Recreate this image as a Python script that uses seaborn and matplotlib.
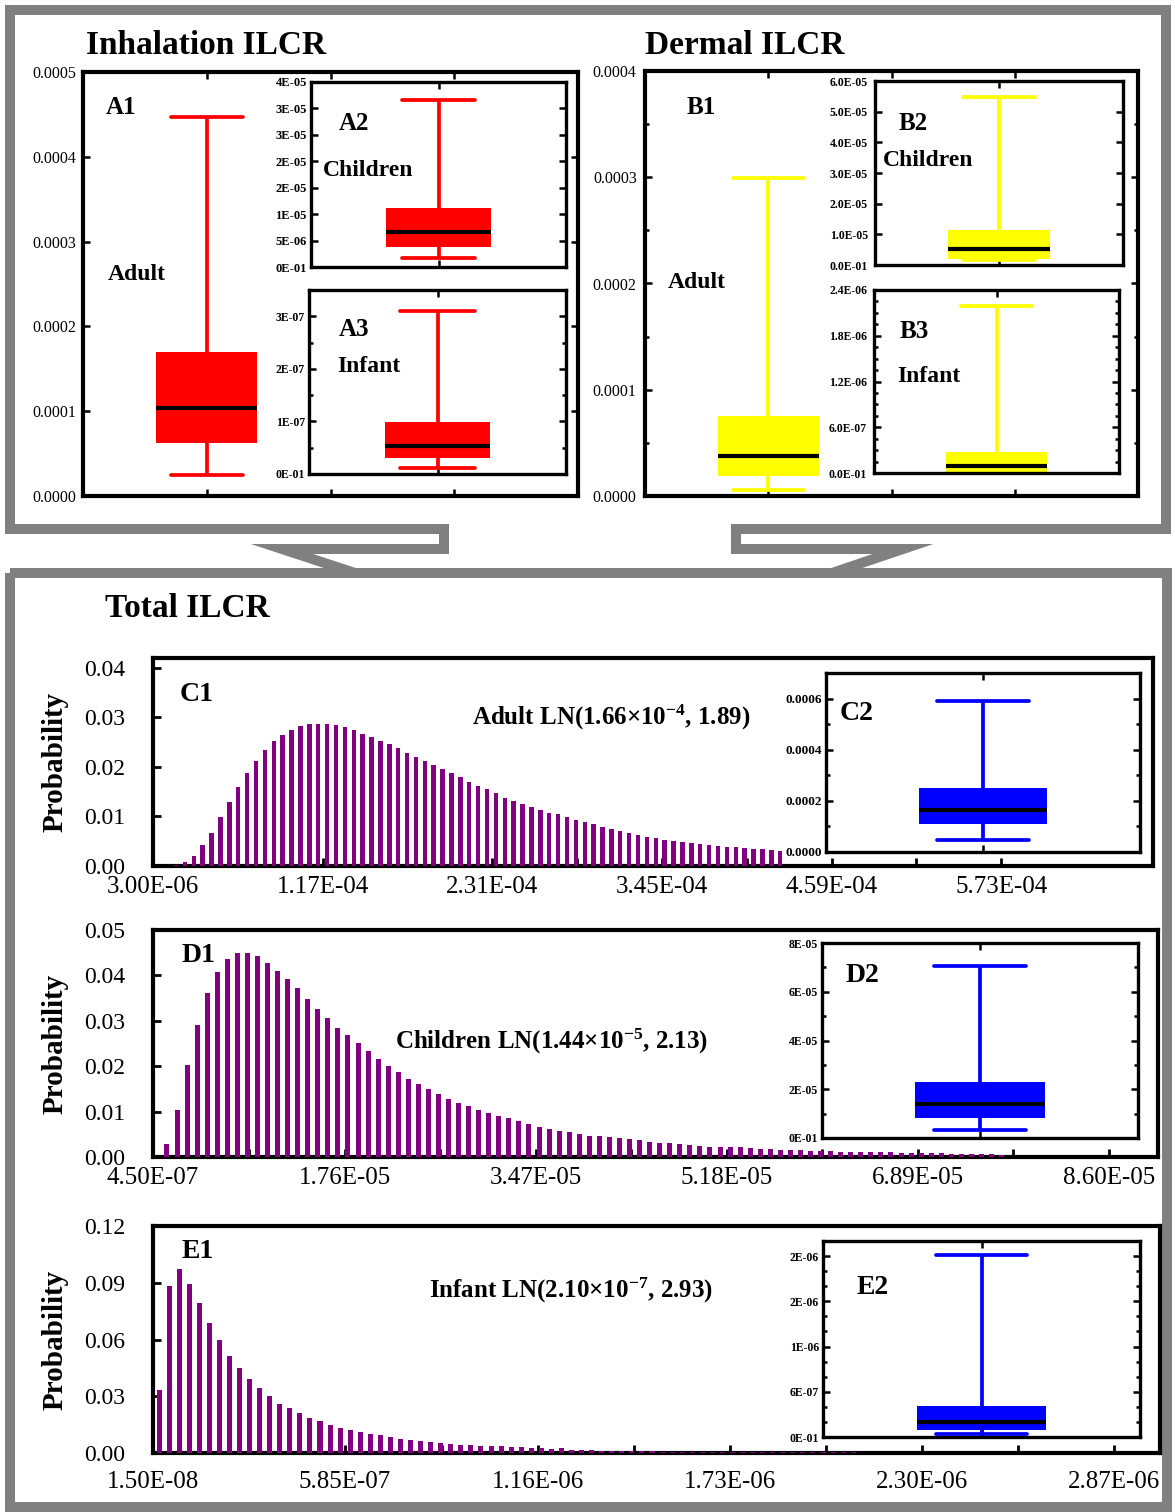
import numpy as np
import seaborn as sns
import matplotlib.pyplot as plt
from matplotlib.ticker import MultipleLocator, FixedLocator

# ---- values ----
# box summaries: [whisker low, Q1, median, Q3, whisker high]
a1_adult = [2.5e-5, 6.3e-5, 1.04e-4, 1.70e-4, 4.47e-4]
a2_children = [1.7e-6, 3.8e-6, 6.6e-6, 1.12e-5, 3.16e-5]
a3_infant = [1.1e-8, 3.0e-8, 5.3e-8, 9.8e-8, 3.1e-7]
b1_adult = [6e-6, 1.9e-5, 3.8e-5, 7.5e-5, 2.99e-4]
b2_children = [1.5e-6, 2.0e-6, 5.2e-6, 1.15e-5, 5.48e-5]
b3_infant = [5e-9, 1.5e-8, 8.7e-8, 2.7e-7, 2.19e-6]
c2_adult = [4.7e-5, 1.09e-4, 1.64e-4, 2.50e-4, 5.89e-4]
d2_children = [3.3e-6, 8.2e-6, 1.39e-5, 2.30e-5, 7.05e-5]
e2_infant = [4e-8, 9e-8, 2.0e-7, 4.1e-7, 2.42e-6]

a1_ticks = [0, 1e-4, 2e-4, 3e-4, 4e-4, 5e-4]
a1_labels = ["0.0000", "0.0001", "0.0002", "0.0003", "0.0004", "0.0005"]
a2_ticks = [0, 5e-6, 1e-5, 1.5e-5, 2e-5, 2.5e-5, 3e-5, 3.5e-5]
a2_labels = ["0E-01", "5E-06", "1E-05", "2E-05", "2E-05", "3E-05", "3E-05", "4E-05"]
a3_ticks = [0, 1e-7, 2e-7, 3e-7]
a3_labels = ["0E-01", "1E-07", "2E-07", "3E-07"]
b1_ticks = [0, 1e-4, 2e-4, 3e-4, 4e-4]
b1_labels = ["0.0000", "0.0001", "0.0002", "0.0003", "0.0004"]
b2_ticks = [0, 1e-5, 2e-5, 3e-5, 4e-5, 5e-5, 6e-5]
b2_labels = ["0.0E-01", "1.0E-05", "2.0E-05", "3.0E-05", "4.0E-05", "5.0E-05", "6.0E-05"]
b3_ticks = [0, 6e-7, 1.2e-6, 1.8e-6, 2.4e-6]
b3_labels = ["0.0E-01", "6.0E-07", "1.2E-06", "1.8E-06", "2.4E-06"]
c2_ticks = [0, 2e-4, 4e-4, 6e-4]
c2_labels = ["0.0000", "0.0002", "0.0004", "0.0006"]
d2_ticks = [0, 2e-5, 4e-5, 6e-5, 8e-5]
d2_labels = ["0E-01", "2E-05", "4E-05", "6E-05", "8E-05"]
e2_ticks = [0, 6e-7, 1.2e-6, 1.8e-6, 2.4e-6]
e2_labels = ["0E-01", "6E-07", "1E-06", "2E-06", "2E-06"]

# histogram probabilities (one value per bin)
c1_prob = [0.0003, 0.0009, 0.0021, 0.0043, 0.0066, 0.0099, 0.0130, 0.0160, 0.0188, 0.0213,
           0.0234, 0.0253, 0.0265, 0.0274, 0.0283, 0.0287, 0.0287, 0.0287, 0.0284, 0.0281,
           0.0275, 0.0267, 0.0261, 0.0253, 0.0246, 0.0238, 0.0228, 0.0220, 0.0212, 0.0203,
           0.0195, 0.0187, 0.0179, 0.0170, 0.0161, 0.0155, 0.0147, 0.0138, 0.0132, 0.0125,
           0.0120, 0.0114, 0.0108, 0.0104, 0.0098, 0.0093, 0.0088, 0.0084, 0.0079, 0.0075,
           0.0071, 0.0066, 0.0062, 0.0059, 0.0056, 0.0053, 0.0051, 0.0049, 0.0046, 0.0044,
           0.0042, 0.0041, 0.0039, 0.0038, 0.0037, 0.0035, 0.0034, 0.0033, 0.0030]
d1_prob = [0.0028, 0.0104, 0.0202, 0.0291, 0.0362, 0.0407, 0.0437, 0.0449, 0.0449, 0.0442,
           0.0428, 0.0410, 0.0393, 0.0373, 0.0347, 0.0327, 0.0306, 0.0285, 0.0268, 0.0251,
           0.0233, 0.0216, 0.0201, 0.0187, 0.0172, 0.0160, 0.0149, 0.0138, 0.0128, 0.0120,
           0.0112, 0.0104, 0.0097, 0.0090, 0.0086, 0.0080, 0.0072, 0.0067, 0.0062, 0.0057,
           0.0054, 0.0050, 0.0047, 0.0046, 0.0043, 0.0041, 0.0039, 0.0037, 0.0033, 0.0030,
           0.0030, 0.0028, 0.0026, 0.0025, 0.0022, 0.0022, 0.0021, 0.0021, 0.0019, 0.0017,
           0.0017, 0.0016, 0.0015, 0.0015, 0.0014, 0.0014, 0.0013, 0.0012, 0.0012, 0.0011,
           0.0011, 0.0010, 0.0010, 0.0009, 0.0009, 0.0008, 0.0008, 0.0008, 0.0007, 0.0007,
           0.0006, 0.0006, 0.0006, 0.0005]
e1_prob = [0.0335, 0.0882, 0.0971, 0.0895, 0.0794, 0.0688, 0.0596, 0.0515, 0.0450, 0.0392,
           0.0342, 0.0300, 0.0259, 0.0236, 0.0212, 0.0184, 0.0169, 0.0150, 0.0134, 0.0120,
           0.0109, 0.0101, 0.0094, 0.0086, 0.0076, 0.0067, 0.0062, 0.0056, 0.0051, 0.0049,
           0.0044, 0.0041, 0.0039, 0.0035, 0.0035, 0.0032, 0.0030, 0.0026, 0.0026, 0.0023,
           0.0026, 0.0018, 0.0016, 0.0015, 0.0013, 0.0013, 0.0012, 0.0011, 0.0010, 0.0010,
           0.0006, 0.0006, 0.0005, 0.0005, 0.0005, 0.0004, 0.0004, 0.0004, 0.0004, 0.0004,
           0.0004, 0.0004, 0.0004, 0.0004, 0.0004, 0.0004, 0.0004, 0.0004, 0.0004, 0.0004]
# first bin centre and bin width of each histogram
c1_first, c1_step = 1.85e-5, 5.97e-6
d1_first, d1_step = 1.70e-6, 9.0e-7
e1_first, e1_step = 3.3e-8, 2.99e-8

c1_xticks = [3.00e-6, 1.17e-4, 2.31e-4, 3.45e-4, 4.59e-4, 5.73e-4]
d1_xticks = [4.50e-7, 1.76e-5, 3.47e-5, 5.18e-5, 6.89e-5, 8.60e-5]
e1_xticks = [1.50e-8, 5.85e-7, 1.16e-6, 1.73e-6, 2.30e-6, 2.87e-6]
c1_yticks = [0, 0.01, 0.02, 0.03, 0.04]
d1_yticks = [0, 0.01, 0.02, 0.03, 0.04, 0.05]
e1_yticks = [0, 0.03, 0.06, 0.09, 0.12]

RED, YELLOW, BLUE, PURPLE, GRAY = "#ff0000", "#ffff00", "#0000ff", "#800080", "#808080"

sns.set_style("white")
plt.rcParams["font.family"] = ["Liberation Serif", "DejaVu Serif"]
plt.rcParams["mathtext.fontset"] = "custom"
plt.rcParams["mathtext.rm"] = "Liberation Serif:bold"
plt.rcParams["mathtext.default"] = "rm"
for key in ["text.color", "axes.labelcolor", "xtick.color", "ytick.color"]:
    plt.rcParams[key] = "black"

W, H = 1175, 1512
fig = plt.figure(figsize=(W / 100, H / 100), dpi=100)


def axes_px(l, t, r, b, z=1):
    return fig.add_axes([l / W, 1 - b / H, (r - l) / W, (b - t) / H], zorder=z)


def frame(ax, lw):
    ax.set_facecolor("white")
    for s in ax.spines.values():
        s.set_visible(True)
        s.set_color("black")
        s.set_linewidth(lw)


def box_panel(ax, stats, color, ytop, ticks, labels, xright, fs, weight, minor=None, lw=2.4, pad=3):
    sns.boxplot(y=stats, ax=ax, color=color, linecolor=color, saturation=1, width=0.41,
                whis=(0, 100), linewidth=2.7, capwidths=0.29,
                boxprops=dict(linewidth=0), medianprops=dict(color="black", linewidth=3))
    ax.set_xlim(-0.5, xright)
    ax.set_ylim(0, ytop)
    ax.set_xlabel("")
    ax.set_ylabel("")
    ax.set_xticks(np.arange(0, xright, 0.5))
    ax.set_yticks(ticks, labels, fontsize=fs, fontweight=weight)
    if minor:
        ax.yaxis.set_minor_locator(MultipleLocator(minor))
    ax.tick_params(which="both", direction="in", top=True, right=True, left=True, bottom=True,
                   labelbottom=False, width=1.8, color="black")
    ax.tick_params(which="major", length=5, pad=pad)
    ax.tick_params(which="minor", length=3)
    frame(ax, lw)


def hist_panel(ax, probs, first, step, xlim, xticks, ytop, yticks, xpad):
    centers = first + step * np.arange(len(probs))
    sns.barplot(x=centers, y=probs, ax=ax, native_scale=True, width=0.5, color=PURPLE,
                saturation=1, linewidth=0, errorbar=None)
    # bars sit over the bottom spine, as in the original
    for bar in ax.patches:
        bar.set_zorder(3)
    ax.set_xlim(*xlim)
    ax.set_ylim(0, ytop)
    ax.set_xticks(xticks, [f"{v:.2E}" for v in xticks], fontsize=18)
    ax.xaxis.set_minor_locator(FixedLocator([(a + b) / 2 for a, b in zip(xticks[:-1], xticks[1:])]))
    ax.set_yticks(yticks, [f"{v:.2f}" for v in yticks], fontsize=17)
    ax.set_xlabel("")
    ax.set_ylabel("Probability", fontsize=21, fontweight="bold")
    ax.yaxis.set_label_coords(-0.084, 0.5)
    ax.tick_params(which="both", direction="in", left=True, bottom=True, top=False, right=False,
                   width=2, color="black", length=6)
    ax.tick_params(axis="y", pad=20)
    ax.tick_params(axis="x", pad=xpad)
    frame(ax, 3)


# gray frames and connectors
bg = fig.add_axes([0, 0, 1, 1], zorder=0)
bg.set_xlim(0, W)
bg.set_ylim(H, 0)
bg.axis("off")
kw = dict(color=GRAY, lw=7.2, solid_joinstyle="miter", solid_capstyle="butt")
bg.plot([444, 10, 10, 1166, 1166, 736], [529, 529, 10, 10, 529, 529], **kw)
bg.plot([444, 444, 282, 355], [524, 549, 549, 573], **kw)
bg.plot([736, 736, 903, 832], [524, 549, 549, 573], **kw)
bg.plot([10, 1167, 1167, 10, 10], [573, 573, 1507, 1507, 573], **kw)

# top: inhalation
box_panel(axes_px(83, 72, 578, 496), a1_adult, RED, 5e-4, a1_ticks, a1_labels, 1.5, 11.5, "normal", lw=3, pad=5)
box_panel(axes_px(311, 82, 566, 267, 2), a2_children, RED, 3.5e-5, a2_ticks, a2_labels, 0.5, 9, "bold")
box_panel(axes_px(309, 290, 566, 474, 2), a3_infant, RED, 3.5e-7, a3_ticks, a3_labels, 0.5, 8.5, "bold", minor=5e-8)
# top: dermal
box_panel(axes_px(645, 71, 1138, 496), b1_adult, YELLOW, 4e-4, b1_ticks, b1_labels, 1.5, 11.5, "normal", minor=5e-5, lw=3, pad=6)
box_panel(axes_px(875, 81, 1123, 265, 2), b2_children, YELLOW, 6e-5, b2_ticks, b2_labels, 0.5, 8.5, "bold", pad=5)
box_panel(axes_px(874, 290, 1119, 473, 2), b3_infant, YELLOW, 2.4e-6, b3_ticks, b3_labels, 0.5, 8.5, "bold", minor=1.5e-7, pad=5)

# bottom: total
hist_panel(axes_px(153, 658, 1153, 866), c1_prob, c1_first, c1_step, (3.0e-6, 6.75e-4), c1_xticks, 0.042, c1_yticks, 7)
hist_panel(axes_px(153, 930, 1158, 1157), d1_prob, d1_first, d1_step, (4.5e-7, 9.04e-5), d1_xticks, 0.05, d1_yticks, 7)
hist_panel(axes_px(153, 1226, 1160, 1453), e1_prob, e1_first, e1_step, (1.5e-8, 3.008e-6), e1_xticks, 0.12, e1_yticks, 13)
box_panel(axes_px(826, 673, 1140, 852, 2), c2_adult, BLUE, 7e-4, c2_ticks, c2_labels, 0.5, 9.5, "bold", minor=1e-4)
box_panel(axes_px(822, 943, 1138, 1138, 2), d2_children, BLUE, 8e-5, d2_ticks, d2_labels, 0.5, 8.5, "bold", minor=1e-5)
box_panel(axes_px(823, 1241, 1140, 1437, 2), e2_infant, BLUE, 2.6e-6, e2_ticks, e2_labels, 0.5, 8.5, "bold", minor=2e-7)


def label(x, y, s, size, ha="center", va="center"):
    fig.text(x / W, 1 - y / H, s, fontsize=size, fontweight="bold", ha=ha, va=va, zorder=5)


label(86, 54, "Inhalation ILCR", 24, ha="left", va="baseline")
label(645, 54, "Dermal ILCR", 24, ha="left", va="baseline")
label(105, 617, "Total ILCR", 24, ha="left", va="baseline")

label(121, 107, "A1", 18)
label(137, 274, "Adult", 17)
label(354, 124, "A2", 18)
label(368, 170, "Children", 17)
label(354, 330, "A3", 18)
label(369, 367, "Infant", 17)
label(701, 107, "B1", 18)
label(697, 283, "Adult", 17)
label(913, 124, "B2", 18)
label(928, 161, "Children", 17)
label(914, 331, "B3", 18)
label(929, 377, "Infant", 17)

label(197, 694, "C1", 20)
label(857, 714, "C2", 20)
label(611, 717, "Adult LN(1.66×$10^{-4}$, 1.89)", 18)
label(199, 955, "D1", 20)
label(862, 975, "D2", 20)
label(552, 1041, "Children LN(1.44×$10^{-5}$, 2.13)", 18)
label(198, 1251, "E1", 20)
label(873, 1287, "E2", 20)
label(571, 1290, "Infant LN(2.10×$10^{-7}$, 2.93)", 18)

fig.savefig("out.png", dpi=100, facecolor="white")
